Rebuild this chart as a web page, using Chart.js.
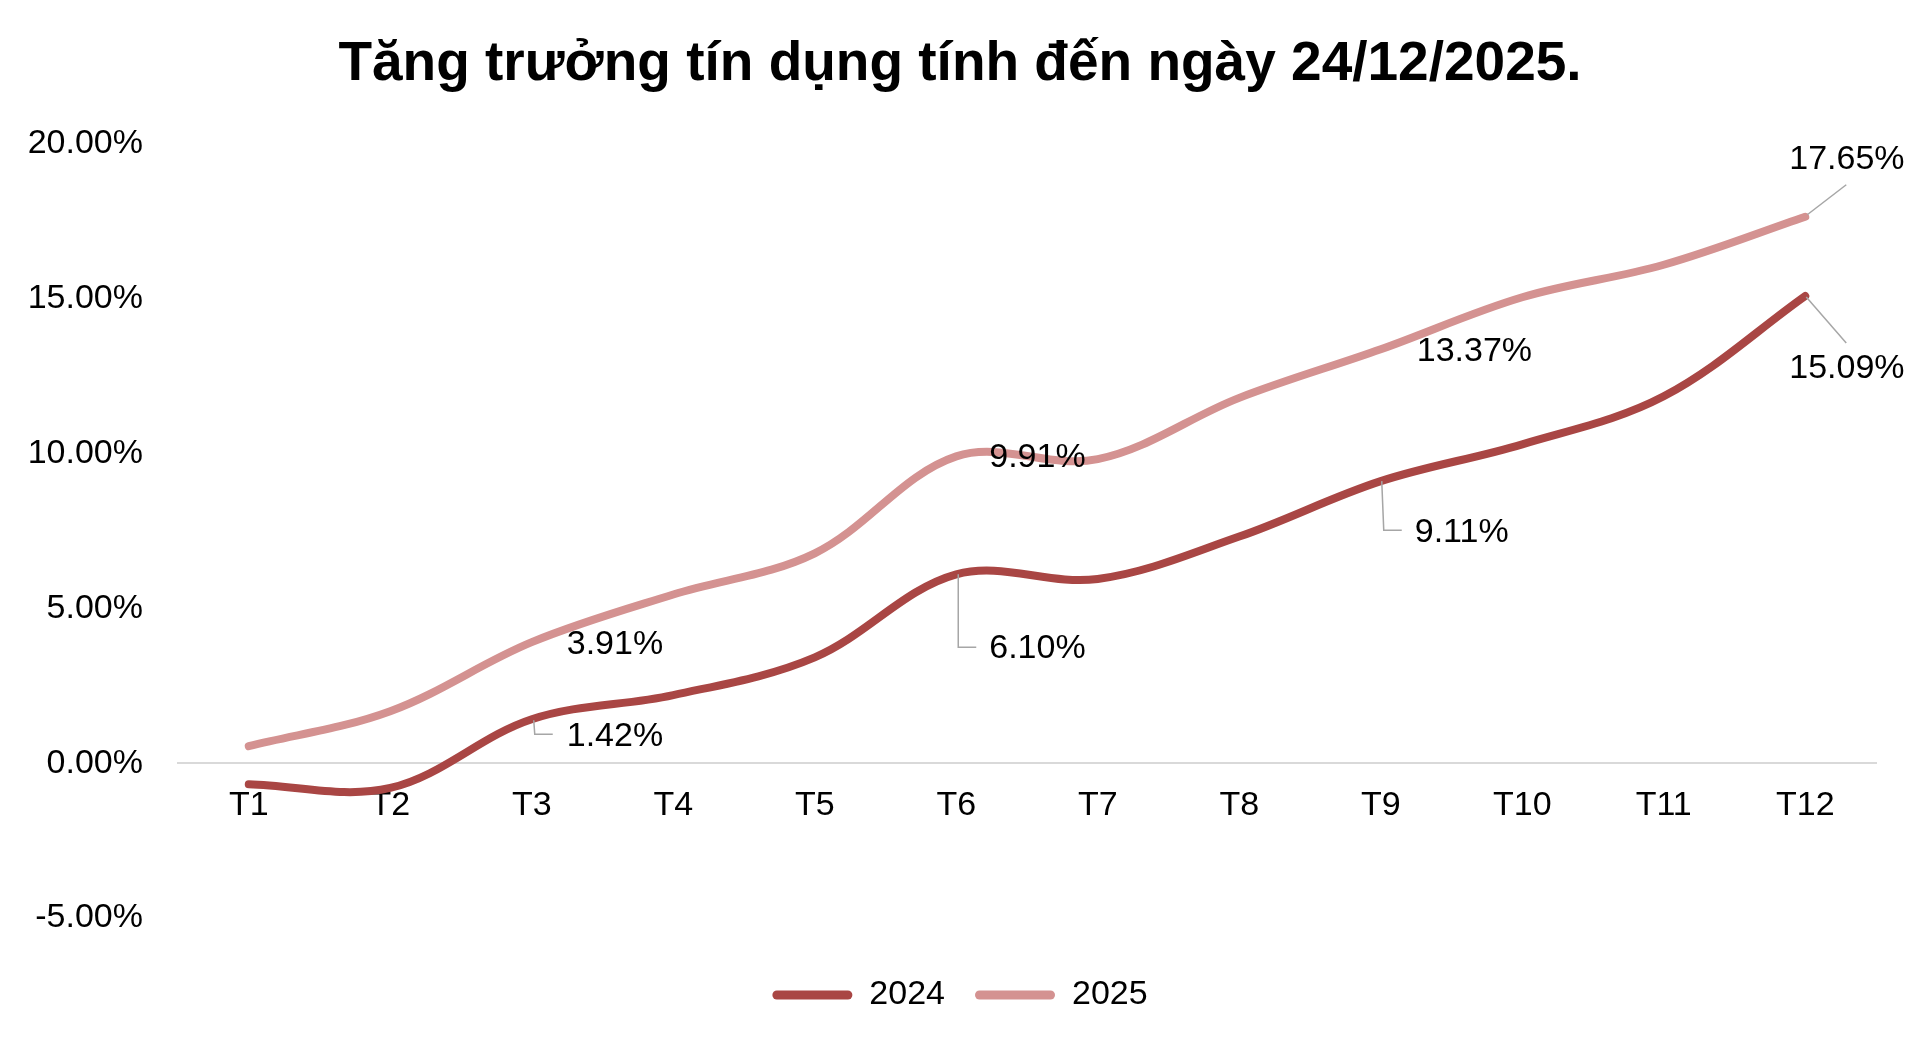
<!DOCTYPE html>
<html>
<head>
<meta charset="utf-8">
<title>Tăng trưởng tín dụng</title>
<script src="https://cdn.jsdelivr.net/npm/chart.js@4"></script>
<style>
  body { margin: 0; background: #fff; }
</style>
</head>
<body>
<canvas id="myChart" width="1920" height="1048"></canvas>
<script>
const months = ['T1', 'T2', 'T3', 'T4', 'T5', 'T6', 'T7', 'T8', 'T9', 'T10', 'T11', 'T12'];
const credit2024 = [-0.68, -0.8, 1.42, 2.2, 3.42, 6.10, 5.95, 7.32, 9.11, 10.3, 11.85, 15.09];
const credit2025 = [0.55, 1.68, 3.91, 5.45, 6.78, 9.91, 9.82, 11.8, 13.37, 15.05, 16.1, 17.65];
const yMin = -5, yMax = 20, yStep = 5;

// which points get a value label, and where the label sits
const labelSpots = [
  {ds: 1, i: 2, dx: 35, dy: 2},
  {ds: 1, i: 5, dx: 33, dy: 1},
  {ds: 1, i: 8, dx: 36, dy: 2},
  {ds: 1, i: 11, dx: -16, dy: -57, leader: [[2, -2], [41, -32]]},
  {ds: 0, i: 2, dx: 35, dy: 17, leader: [[2, 1], [3, 15], [21, 15]]},
  {ds: 0, i: 5, dx: 33, dy: 74, leader: [[2, 0], [2, 73], [20, 73]]},
  {ds: 0, i: 8, dx: 34, dy: 51, leader: [[1, 0], [3, 49], [21, 49]]},
  {ds: 0, i: 11, dx: -16, dy: 73, leader: [[1, 1], [41, 47]]}
];

const FONT = "'Liberation Sans', Arial, Helvetica, sans-serif";
Chart.defaults.font.family = FONT;
Chart.defaults.color = '#000';

const pointLabels = {
  id: 'pointLabels',
  afterDatasetsDraw(chart) {
    const c = chart.ctx;
    c.save();
    labelSpots.forEach(s => {
      const pt = chart.getDatasetMeta(s.ds).data[s.i];
      const v = chart.data.datasets[s.ds].data[s.i];
      if (s.leader) {
        c.beginPath();
        c.strokeStyle = '#A6A6A6';
        c.lineWidth = 1.5;
        c.moveTo(pt.x + s.leader[0][0], pt.y + s.leader[0][1]);
        s.leader.slice(1).forEach(p => c.lineTo(pt.x + p[0], pt.y + p[1]));
        c.stroke();
      }
      c.fillStyle = '#000';
      c.font = '34px ' + FONT;
      c.textAlign = 'left';
      c.textBaseline = 'middle';
      c.fillText(v.toFixed(2) + '%', pt.x + s.dx, pt.y + s.dy);
    });
    c.restore();
  }
};

const ctx = document.getElementById('myChart');

new Chart(ctx, {
  type: 'line',
  data: {
    labels: months,
    datasets: [{
      label: '2024',
      data: credit2024,
      borderColor: 'rgb(169,70,68)',
      backgroundColor: 'rgb(169,70,68)'
    },
    {
      label: '2025',
      data: credit2025,
      borderColor: 'rgb(212,146,145)',
      backgroundColor: 'rgb(212,146,145)'
    }]
  },
  options: {
    responsive: false,
    animation: false,
    devicePixelRatio: 1,
    layout: {padding: {top: 0, left: 0, right: 0, bottom: 26}},
    elements: {
      line: {borderWidth: 8, tension: 0.35, borderCapStyle: 'round', borderJoinStyle: 'round'},
      point: {radius: 0, hoverRadius: 0}
    },
    datasets: {line: {clip: false}},
    plugins: {
      title: {
        display: true,
        text: 'Tăng trưởng tín dụng tính đến ngày 24/12/2025.',
        color: '#000',
        font: {size: 55, weight: 'bold'},
        padding: {top: 32, bottom: 46}
      },
      legend: {
        position: 'bottom',
        labels: {
          font: {size: 34},
          color: '#000',
          boxWidth: 80,
          boxHeight: 9,
          padding: 30,
          useBorderRadius: true,
          borderRadius: 4.5,
          generateLabels: chart =>
            Chart.defaults.plugins.legend.labels.generateLabels(chart)
              .map(l => ({...l, fillStyle: l.strokeStyle, lineWidth: 0}))
        }
      },
      tooltip: {enabled: false}
    },
    scales: {
      x: {
        position: {y: 0},
        offset: true,
        grid: {display: false, drawTicks: false},
        border: {display: true, color: '#D9D9D9', width: 2},
        ticks: {font: {size: 34}, color: '#000', padding: 22, maxRotation: 0, autoSkip: false}
      },
      x2: {
        type: 'category',
        labels: months,
        position: 'bottom',
        grid: {display: false, drawTicks: false},
        border: {display: false},
        ticks: {display: false},
        afterFit: s => { s.height = 30; }
      },
      y: {
        min: yMin,
        max: yMax,
        grid: {display: false, drawTicks: false},
        border: {display: false},
        ticks: {
          stepSize: yStep,
          font: {size: 34},
          color: '#000',
          padding: 35,
          callback: v => v.toFixed(2) + '%'
        },
        afterFit: s => { s.width = 178; }
      },
      y2: {
        type: 'linear',
        position: 'right',
        grid: {display: false, drawTicks: false},
        border: {display: false},
        ticks: {display: false},
        afterFit: s => { s.width = 44; }
      }
    }
  },
  plugins: [pointLabels]
});
</script>
</body>
</html>
